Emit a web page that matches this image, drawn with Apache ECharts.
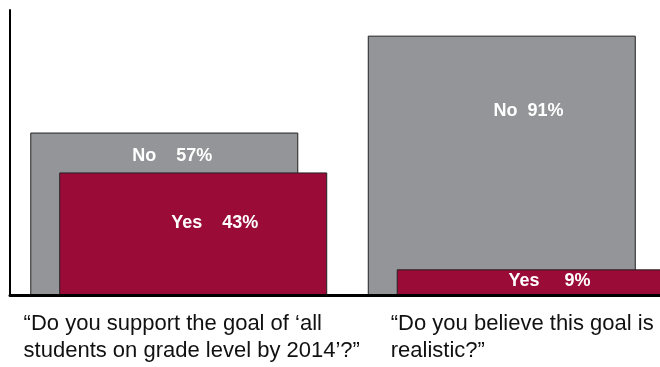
<!DOCTYPE html>
<html>
<head>
<meta charset="utf-8">
<script src="https://cdn.jsdelivr.net/npm/echarts@6/dist/echarts.min.js"></script>
<style>
html,body{margin:0;padding:0;background:#fff;}
#c{width:660px;height:367px;}
</style>
</head>
<body>
<div id="c"></div>
<script>
// ---- data ----
const categories = [
  ['\u201CDo you support the goal of \u2018all', 'students on grade level by 2014\u2019?\u201D'],
  ['\u201CDo you believe this goal is', 'realistic?\u201D']
];
const seriesNames = ['No', 'Yes'];
const noValues = [57, 91];
const yesValues = [43, 9];

// ---- style config ----
const labelStyle = {
  No:  [{pos: ['53%', 23], gap: 4}, {pos: ['60%', 75], gap: 2}],
  Yes: [{pos: ['58%', 51], gap: 4}, {pos: ['57%', 12], gap: 5}]
};
const catShift = [26, 12];
const FONT = '"Liberation Sans", Arial, sans-serif';

function makeData(name, values) {
  return values.map((v, i) => ({
    value: v,
    label: {
      show: true,
      position: labelStyle[name][i].pos,
      align: 'center',
      verticalAlign: 'middle',
      formatter: name + ' '.repeat(labelStyle[name][i].gap) + v + '%'
    }
  }));
}

const rich = {};
catShift.forEach((p, i) => {
  rich['c' + i] = {align: 'left', padding: [0, 0, 0, p], fontFamily: FONT, fontSize: 22, lineHeight: 27, color: '#111'};
});

const chart = echarts.init(document.getElementById('c'), null, {renderer: 'canvas'});
chart.setOption({
  animation: false,
  grid: {left: 10, top: 10, width: 675, bottom: 72, containLabel: false, outerBoundsMode: 'none'},
  xAxis: {
    type: 'category',
    data: categories.map(c => c.join('\n')),
    boundaryGap: true,
    axisLine: {show: true, lineStyle: {color: '#000', width: 3}},
    axisTick: {show: false},
    axisLabel: {
      interval: 0,
      margin: 15,
      align: 'center',
      hideOverlap: false,
      formatter: function (v, idx) {
        return v.split('\n').map(s => '{c' + idx + '|' + s + '}').join('\n');
      },
      rich: rich
    },
    z: 10
  },
  yAxis: {
    type: 'value',
    min: 0,
    max: 100,
    axisLine: {show: true, lineStyle: {color: '#000', width: 2}},
    axisTick: {show: false},
    axisLabel: {show: false},
    splitLine: {show: false}
  },
  series: [
    {
      name: seriesNames[0],
      type: 'bar',
      barWidth: 268,
      barGap: '-89.2%',
      data: makeData('No', noValues),
      itemStyle: {color: '#939598', borderColor: '#222', borderWidth: 1},
      label: {color: '#fff', fontFamily: FONT, fontWeight: 'bold', fontSize: 18}
    },
    {
      name: seriesNames[1],
      type: 'bar',
      barWidth: 268,
      data: makeData('Yes', yesValues),
      itemStyle: {color: '#9b0b38', borderColor: '#222', borderWidth: 1},
      label: {color: '#fff', fontFamily: FONT, fontWeight: 'bold', fontSize: 18}
    }
  ]
});
</script>
</body>
</html>
